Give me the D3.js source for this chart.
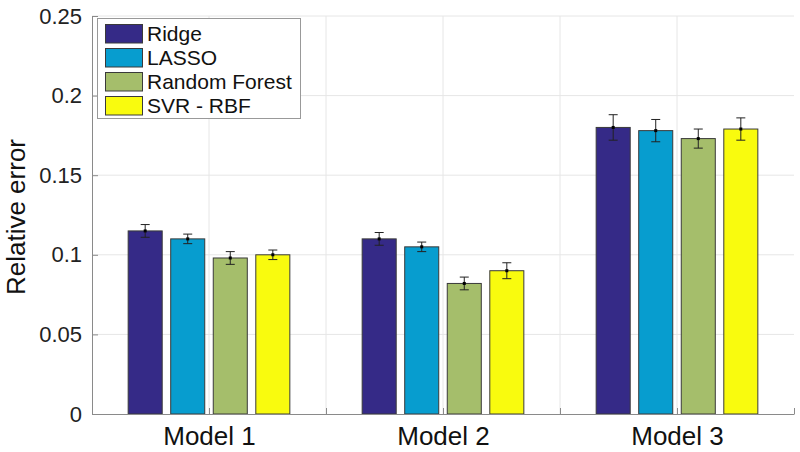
<!DOCTYPE html>
<html><head><meta charset="utf-8">
<script src="https://cdn.jsdelivr.net/npm/d3@7"></script>
<style>body{margin:0;background:#fff}svg{display:block;font-family:"Liberation Sans",Arial,Helvetica,sans-serif}</style>
</head><body><svg id="c" width="800" height="452"></svg>
<script>
const categories = ["Model 1", "Model 2", "Model 3"];
const seriesNames = ["Ridge", "LASSO", "Random Forest", "SVR - RBF"];
const colors = ["#352a87", "#079dcf", "#a5be6b", "#f9fb0e"];
const ridge = [0.115, 0.110, 0.180];
const lasso = [0.110, 0.105, 0.178];
const randomForest = [0.098, 0.082, 0.173];
const svr = [0.100, 0.090, 0.179];
const ridgeErr = [0.004, 0.004, 0.008];
const lassoErr = [0.003, 0.003, 0.007];
const randomForestErr = [0.004, 0.004, 0.006];
const svrErr = [0.003, 0.005, 0.007];
const yTicks = [0, 0.05, 0.1, 0.15, 0.2, 0.25];
const yTickLabels = ["0", "0.05", "0.1", "0.15", "0.2", "0.25"];

const values = [ridge, lasso, randomForest, svr];
const errors = [ridgeErr, lassoErr, randomForestErr, svrErr];

const svg = d3.select("#c");
const L = 92, R = 794, T = 16, B = 414;
const x = d3.scaleLinear().domain([0.5, 3.5]).range([L, R]);
const y = d3.scaleLinear().domain([0, 0.25]).range([B, T]);
const nS = values.length;
const groupW = Math.min(0.8, nS / (nS + 1.5));
const step = groupW / nS;
const barW = step * 0.8;

// grid
const gx = [1, 1.5, 2, 2.5, 3];
svg.append("g").selectAll("line").data(gx).join("line")
  .attr("x1", d => x(d)).attr("x2", d => x(d)).attr("y1", T).attr("y2", B)
  .attr("stroke", "#e6e6e6").attr("stroke-width", 1);
svg.append("g").selectAll("line").data(yTicks.slice(1)).join("line")
  .attr("x1", L).attr("x2", R).attr("y1", d => y(d)).attr("y2", d => y(d))
  .attr("stroke", "#e6e6e6").attr("stroke-width", 1);

// bars
const data = [];
values.forEach((s, i) => s.forEach((v, j) => data.push({i, j, v, e: errors[i][j]})));
const cx = d => x(d.j + 1 + (d.i - (nS - 1) / 2) * step);
svg.append("g").selectAll("rect").data(data).join("rect")
  .attr("x", d => cx(d) - (x(barW) - x(0)) / 2)
  .attr("width", x(barW) - x(0))
  .attr("y", d => y(d.v)).attr("height", d => y(0) - y(d.v))
  .attr("fill", d => colors[d.i]).attr("stroke", "#3a3a3a").attr("stroke-width", 1);

// error bars
const eg = svg.append("g").attr("stroke", "#222").attr("stroke-width", 1);
data.forEach(d => {
  const c = cx(d);
  eg.append("line").attr("x1", c).attr("x2", c).attr("y1", y(d.v + d.e)).attr("y2", y(d.v - d.e));
  [d.v + d.e, d.v - d.e].forEach(t => eg.append("line").attr("x1", c - 4.5).attr("x2", c + 4.5).attr("y1", y(t)).attr("y2", y(t)));
  svg.append("rect").attr("x", c - 1.5).attr("y", y(d.v) - 1.5).attr("width", 3).attr("height", 3).attr("fill", "#000");
});

// axes
const axCol = "#8a8a8a";
const yAxis = svg.append("g").attr("transform", `translate(${L},0)`)
  .call(d3.axisLeft(y).tickValues(yTicks).tickFormat((d, i) => yTickLabels[i]).tickSizeInner(-6).tickSizeOuter(0).tickPadding(10));
yAxis.select(".domain").attr("stroke", axCol);
yAxis.selectAll(".tick line").attr("stroke", axCol);
yAxis.selectAll("text").attr("font-size", 22).attr("fill", "#222").attr("font-family", "Liberation Sans, Arial, sans-serif");

const xAxis = svg.append("g").attr("transform", `translate(0,${B})`)
  .call(d3.axisBottom(x).tickValues([0.5, 1, 1.5, 2, 2.5, 3, 3.5])
    .tickFormat(d => Number.isInteger(d) ? categories[d - 1] : "").tickSizeInner(-6).tickSizeOuter(0).tickPadding(13));
xAxis.select(".domain").attr("stroke", axCol);
xAxis.selectAll(".tick line").attr("stroke", axCol);
xAxis.selectAll("text").attr("font-size", 26).attr("fill", "#111").attr("font-family", "Liberation Sans, Arial, sans-serif");

svg.append("text").attr("transform", "translate(25,217) rotate(-90)").attr("text-anchor", "middle")
  .attr("font-size", 26).attr("fill", "#111").text("Relative error");

// legend
const lg = svg.append("g");
lg.append("rect").attr("x", 97.5).attr("y", 18.5).attr("width", 203).attr("height", 100)
  .attr("fill", "#fff").attr("stroke", "#999");
seriesNames.forEach((n, i) => {
  const yy = 24 + i * 24;
  lg.append("rect").attr("x", 105.5).attr("y", yy + 0.5).attr("width", 37).attr("height", 18.5)
    .attr("fill", colors[i]).attr("stroke", "#3a3a3a");
  lg.append("text").attr("x", 147).attr("y", yy + 17).attr("font-size", 21).attr("fill", "#111").text(n);
});
</script></body></html>
